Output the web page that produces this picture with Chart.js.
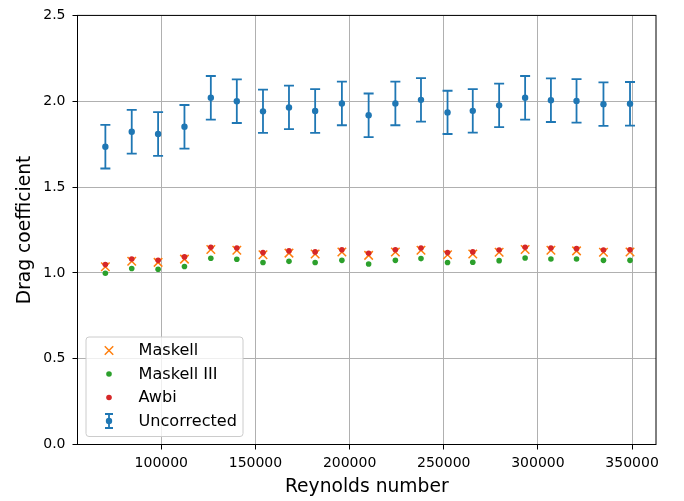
<!DOCTYPE html>
<html lang="en">
<head>
  <meta charset="UTF-8">
  <title>Drag coefficient vs Reynolds number</title>
  <script src="https://cdn.jsdelivr.net/npm/chart.js"></script>
  <style>
    body {
      margin: 0;
      background-color: #ffffff;
    }
    #wrap {
      width: 684px;
      height: 501px;
      position: relative;
    }
  </style>
</head>
<body>
  <div id="wrap"><canvas id="dragChart"></canvas></div>

  <script>
    // Data
    const reynolds = [70300, 84300, 98300, 112300, 126300, 140100, 154000, 167800, 181700, 195900,
                      210100, 224300, 237900, 252000, 265400, 279400, 293200, 306900, 320500, 334800, 348900];
    const uncorrected = [1.735, 1.822, 1.809, 1.851, 2.020, 2.000, 1.941, 1.964, 1.943, 1.987,
                         1.918, 1.987, 2.008, 1.935, 1.944, 1.976, 2.020, 2.006, 2.002, 1.983, 1.985];
    const uncorrectedErr = [0.127, 0.127, 0.127, 0.127, 0.127, 0.127, 0.126, 0.127, 0.127, 0.127,
                            0.127, 0.127, 0.127, 0.126, 0.127, 0.127, 0.127, 0.127, 0.127, 0.127, 0.127];
    const maskell = [1.036, 1.068, 1.061, 1.080, 1.136, 1.132, 1.106, 1.115, 1.110, 1.122,
                     1.102, 1.122, 1.132, 1.106, 1.110, 1.120, 1.136, 1.132, 1.128, 1.120, 1.122];
    const maskellIII = [0.998, 1.025, 1.021, 1.037, 1.085, 1.079, 1.060, 1.067, 1.060, 1.073,
                        1.052, 1.073, 1.083, 1.060, 1.062, 1.071, 1.087, 1.081, 1.081, 1.073, 1.073];
    const awbi = [1.048, 1.081, 1.073, 1.093, 1.149, 1.145, 1.118, 1.128, 1.122, 1.135,
                  1.114, 1.135, 1.145, 1.118, 1.122, 1.133, 1.149, 1.145, 1.141, 1.133, 1.135];

    const xTicks = [100000, 150000, 200000, 250000, 300000, 350000];
    const yTicks = [0.0, 0.5, 1.0, 1.5, 2.0, 2.5];

    const toPoints = ys => reynolds.map((x, i) => ({ x: x, y: ys[i] }));
    const FONT = 'DejaVu Sans';

    // vertical error bars with caps, drawn under the markers
    const errorBars = {
      id: 'errorBars',
      beforeDatasetsDraw(chart) {
        const { ctx, scales: { x, y } } = chart;
        chart.data.datasets.forEach(ds => {
          if (!ds.errors) return;
          ctx.save();
          ctx.strokeStyle = ds.borderColor;
          ctx.lineWidth = 1.8;
          ds.data.forEach((p, i) => {
            const px = x.getPixelForValue(p.x);
            const top = y.getPixelForValue(p.y + ds.errors[i]);
            const bot = y.getPixelForValue(p.y - ds.errors[i]);
            ctx.beginPath();
            ctx.moveTo(px, top); ctx.lineTo(px, bot);
            ctx.moveTo(px - 5, top); ctx.lineTo(px + 5, top);
            ctx.moveTo(px - 5, bot); ctx.lineTo(px + 5, bot);
            ctx.stroke();
          });
          ctx.restore();
        });
      }
    };

    // frame on all four sides + legend box in the lower left corner
    const frameAndLegend = {
      id: 'frameAndLegend',
      afterDraw(chart) {
        const { ctx, chartArea: a } = chart;
        ctx.save();
        ctx.strokeStyle = '#000000';
        ctx.lineWidth = 1;
        ctx.strokeRect(a.left, a.top, a.right - a.left, a.bottom - a.top);

        // legend
        const bx = a.left + 8.5, by = a.bottom - 107.5, bw = 157, bh = 99.5;
        ctx.beginPath();
        ctx.roundRect(bx, by, bw, bh, 3);
        ctx.fillStyle = 'rgba(255,255,255,0.8)';
        ctx.fill();
        ctx.strokeStyle = '#cccccc';
        ctx.stroke();

        const order = [1, 2, 3, 0];
        const mx = bx + 23;
        ctx.font = '16.1px "' + FONT + '"';
        ctx.textBaseline = 'middle';
        ctx.textAlign = 'left';
        order.forEach((di, row) => {
          const ds = chart.data.datasets[di];
          const cy = by + 13.5 + row * 23.5;
          if (ds.errors) {
            ctx.strokeStyle = ds.borderColor;
            ctx.lineWidth = 1.8;
            ctx.beginPath();
            ctx.moveTo(mx, cy - 7); ctx.lineTo(mx, cy + 7);
            ctx.moveTo(mx - 4, cy - 7); ctx.lineTo(mx + 4, cy - 7);
            ctx.moveTo(mx - 4, cy + 7); ctx.lineTo(mx + 4, cy + 7);
            ctx.stroke();
          }
          ctx.fillStyle = ds.backgroundColor;
          ctx.strokeStyle = ds.borderColor;
          ctx.lineWidth = ds.borderWidth;
          ctx.beginPath();
          if (ds.pointStyle === 'crossRot') {
            const r = ds.pointRadius * Math.SQRT1_2;
            ctx.moveTo(mx - r, cy - r); ctx.lineTo(mx + r, cy + r);
            ctx.moveTo(mx - r, cy + r); ctx.lineTo(mx + r, cy - r);
            ctx.stroke();
          } else {
            ctx.arc(mx, cy, ds.pointRadius, 0, Math.PI * 2);
            ctx.fill();
          }
          ctx.fillStyle = '#000000';
          ctx.fillText(ds.label, bx + 52.5, cy + 0.5);
        });
        ctx.restore();
      }
    };

    const ctx = document.getElementById('dragChart').getContext('2d');

    const dragChart = new Chart(ctx, {
      type: 'scatter',
      data: {
        datasets: [
          {
            label: 'Uncorrected',
            data: toPoints(uncorrected),
            errors: uncorrectedErr,
            borderColor: '#1f77b4',
            backgroundColor: '#1f77b4',
            pointStyle: 'circle',
            pointRadius: 3.2,
            borderWidth: 0,
            order: 4
          },
          {
            label: 'Maskell',
            data: toPoints(maskell),
            borderColor: '#ff7f0e',
            backgroundColor: '#ff7f0e',
            pointStyle: 'crossRot',
            pointRadius: 6,
            borderWidth: 1.5,
            order: 3
          },
          {
            label: 'Maskell III',
            data: toPoints(maskellIII),
            borderColor: '#2ca02c',
            backgroundColor: '#2ca02c',
            pointStyle: 'circle',
            pointRadius: 2.8,
            borderWidth: 0,
            order: 2
          },
          {
            label: 'Awbi',
            data: toPoints(awbi),
            borderColor: '#d62728',
            backgroundColor: '#d62728',
            pointStyle: 'circle',
            pointRadius: 2.8,
            borderWidth: 0,
            order: 1
          }
        ]
      },
      options: {
        responsive: true,
        maintainAspectRatio: false,
        animation: false,
        devicePixelRatio: 1,
        layout: { padding: { top: 14, right: 28, left: 0, bottom: 0 } },
        plugins: {
          legend: { display: false },
          tooltip: { enabled: false }
        },
        scales: {
          x: {
            type: 'linear',
            min: 55500,
            max: 362700,
            afterFit: s => { s.height = 56.5; },
            afterBuildTicks: s => { s.ticks = xTicks.map(v => ({ value: v })); },
            ticks: {
              color: '#000000',
              padding: 5,
              maxRotation: 0,
              font: { family: FONT, size: 14 },
              callback: v => String(v)
            },
            grid: { color: '#b0b0b0', tickColor: '#000000', tickLength: 5, lineWidth: 1 },
            border: { display: false },
            title: {
              display: true,
              text: 'Reynolds number',
              color: '#000000',
              font: { family: FONT, size: 18.7 },
              padding: { top: 0, bottom: 2.5 }
            }
          },
          y: {
            type: 'linear',
            min: 0,
            max: 2.5,
            afterFit: s => { s.width = 77.5; },
            afterBuildTicks: s => { s.ticks = yTicks.map(v => ({ value: v })); },
            ticks: {
              color: '#000000',
              padding: 7,
              font: { family: FONT, size: 14 },
              callback: v => v.toFixed(1)
            },
            grid: { color: '#b0b0b0', tickColor: '#000000', tickLength: 5, lineWidth: 1 },
            border: { display: false },
            title: {
              display: true,
              text: 'Drag coefficient',
              color: '#000000',
              font: { family: FONT, size: 18.7 },
              padding: { top: 13.5, bottom: 0 }
            }
          }
        }
      },
      plugins: [errorBars, frameAndLegend]
    });
  </script>
</body>
</html>
